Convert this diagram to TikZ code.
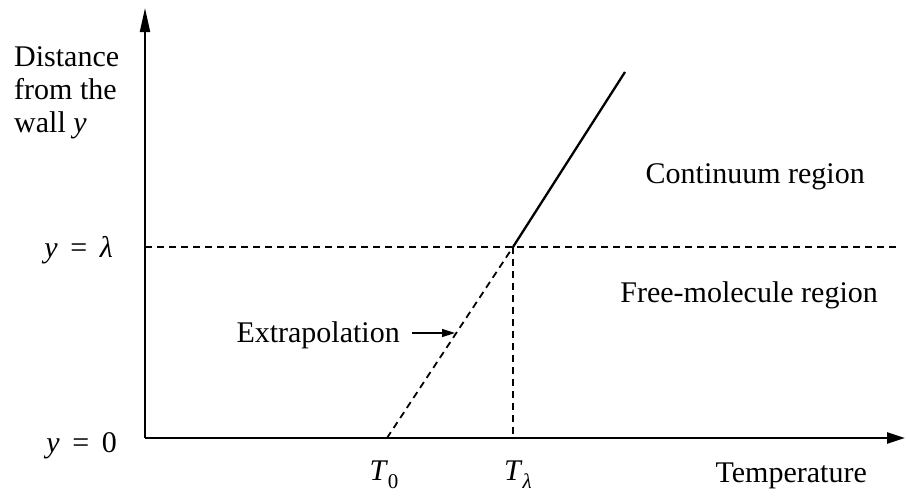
\documentclass[tikz,border=0pt]{standalone}
\usepackage{fontspec}
\setmainfont{Liberation Serif}
\usetikzlibrary{arrows.meta}
\newcommand{\eqsp}{\hspace{0.42em}}
\newcommand{\subsc}[1]{\raisebox{-0.28em}{\fontsize{21}{21}\selectfont #1}}
\begin{document}
\begin{tikzpicture}[x=1pt,y=-1pt,
  yaxis/.style={line width=2pt,-{Triangle[length=24pt,width=10pt]}},
  xaxis/.style={line width=2.4pt,-{Triangle[length=18pt,width=11pt]}},
  guide/.style={line width=1.8pt,dash pattern=on 7pt off 5pt},
  lbl/.style={font=\fontsize{30}{33}\selectfont,inner sep=0pt},
  pointer/.style={line width=1.4pt,-{Triangle[length=13pt,width=8pt]}}]
\useasboundingbox (0,0) rectangle (907,499);
\coordinate (O) at (145,438);
\coordinate (ytop) at (145,8);
\coordinate (xend) at (905,438);
\coordinate (L) at (145,247);
\coordinate (Lend) at (897,247);
\coordinate (P) at (513,247);
\coordinate (Pb) at (513,438);
\coordinate (T0p) at (387,438);
\coordinate (Top) at (625,72);
\draw[yaxis] (O) -- (ytop);
\draw[xaxis] (O) -- (xend);
\draw[guide] (L) -- (Lend);
\draw[guide] (P) -- (Pb);
\draw[guide] (T0p) -- (P);
\draw[line width=2.3pt] (P) -- (Top);
\node[lbl,anchor=base west,align=left] (ylab) at (14,132) {Distance\\from the\\wall \textit{y}};
\node[lbl,anchor=base east] (ylam) at (113,257) {\textit{y}\eqsp=\eqsp\textit{λ}};
\node[lbl,anchor=base east] (yzero) at (117,452) {\textit{y}\eqsp=\eqsp0};
\node[lbl,anchor=base] (t0) at (384,480) {\textit{T}\subsc{0}};
\node[lbl,anchor=base] (tl) at (518,480) {\textit{T}\subsc{\textit{λ}}};
\node[lbl,anchor=base east] (temp) at (867,482) {Temperature};
\node[lbl,anchor=base east] (cont) at (865,183) {Continuum region};
\node[lbl,anchor=base east] (free) at (878,302) {Free-molecule region};
\node[lbl,anchor=base east] (extra) at (400,342) {Extrapolation};
\coordinate (arrtip) at (455,333);
\draw[pointer] (extra.east |- arrtip) ++(12pt,0) coordinate (arrstart) -- (arrtip);
\end{tikzpicture}
\end{document}
